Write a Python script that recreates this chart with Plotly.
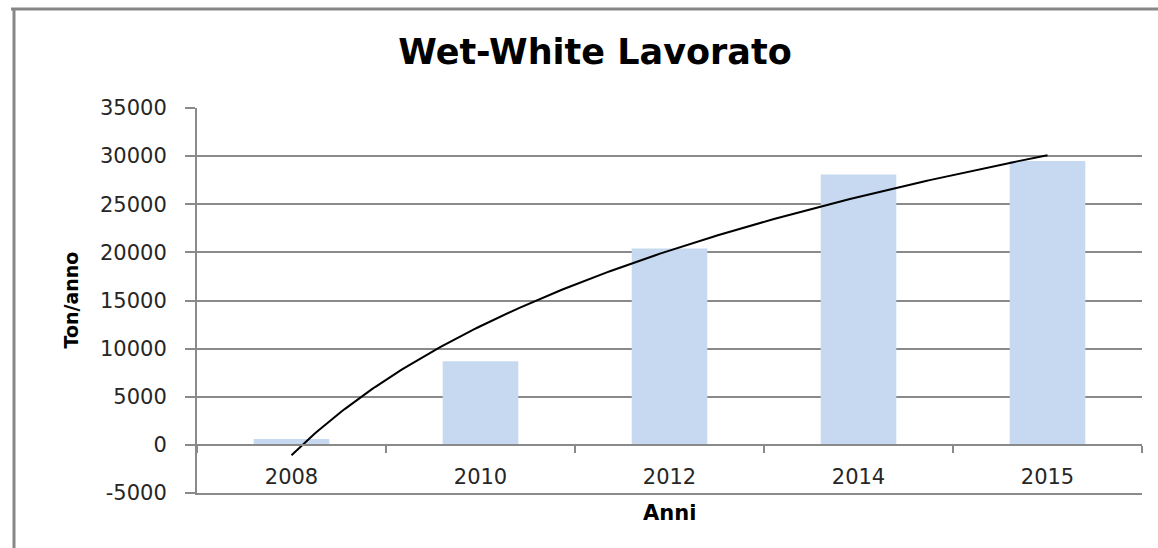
import numpy as np
import plotly.graph_objects as go

# Data
years = ["2008", "2010", "2012", "2014", "2015"]
tons = [600, 8700, 20400, 28100, 29500]
y_ticks = [-5000, 0, 5000, 10000, 15000, 20000, 25000, 30000, 35000]
y_labels = ["-5000", "0", "5000", "10000", "15000", "20000", "25000", "30000", "35000"]

W, H = 1158, 548
L, R, T, B = 197, 16, 108, 55
GRID = "#8a8a8a"
TXT = "#262626"
FONT = "DejaVu Sans"

pos = np.arange(1, len(years) + 1)

# Logarithmic trend line (least squares on ln(x)), as in a spreadsheet trendline
a, b = np.polyfit(np.log(pos), np.array(tons, dtype=float), 1)
xt = np.linspace(1, len(years), 200)
yt = a * np.log(xt) + b

ymin, ymax = y_ticks[0], y_ticks[-1]
zero_frac = (0 - ymin) / (ymax - ymin)

fig = go.Figure()
fig.add_trace(go.Bar(x=pos, y=tons, width=0.4, marker=dict(color="#c6d9f0", line=dict(width=0)),
                     showlegend=False, hoverinfo="skip"))
fig.add_trace(go.Scatter(x=xt, y=yt, mode="lines", line=dict(color="#000000", width=2),
                         showlegend=False, hoverinfo="skip"))

xr = [0.5, len(years) + 0.5]
fig.update_layout(
    width=W, height=H,
    margin=dict(l=L, r=R, t=T, b=B),
    paper_bgcolor="white", plot_bgcolor="white",
    title=dict(text="Wet-White Lavorato", x=595 / W, xref="container", xanchor="center",
               y=1 - 52 / H, yref="container", yanchor="middle",
               font=dict(family=FONT, size=35, color="#000000", weight="bold")),
    # category axis crossing at zero, ticks between categories
    xaxis=dict(range=xr, tickvals=[p + 0.5 for p in range(len(years) + 1)],
               showticklabels=False, ticks="outside", ticklen=7, tickwidth=2, tickcolor=GRID,
               showgrid=False, zeroline=False, showline=True, linecolor=GRID, linewidth=2,
               anchor="free", position=zero_frac),
    # category labels
    xaxis2=dict(overlaying="x", range=xr, tickvals=list(pos), ticktext=years, ticks="",
                showgrid=False, zeroline=False, showline=False, anchor="free", position=zero_frac,
                side="bottom", ticklabelstandoff=17,
                tickfont=dict(family=FONT, size=21, color=TXT)),
    # bottom edge line of the plot area (-5000 gridline)
    xaxis3=dict(overlaying="x", range=xr, showticklabels=False, ticks="", showgrid=False,
                zeroline=False, showline=True, linecolor=GRID, linewidth=2, anchor="y", side="bottom"),
    yaxis=dict(range=[ymin, ymax], tickvals=y_ticks, ticktext=y_labels,
               showgrid=True, gridcolor=GRID, gridwidth=2, zeroline=False,
               showline=True, linecolor=GRID, linewidth=2,
               ticks="outside", ticklen=10, tickwidth=2, tickcolor=GRID, ticklabelstandoff=14,
               tickfont=dict(family=FONT, size=21, color=TXT)),
)

# Empty traces so the overlay axes are rendered
fig.add_trace(go.Scatter(x=[1], y=[None], xaxis="x2", showlegend=False, hoverinfo="skip"))
fig.add_trace(go.Scatter(x=[1], y=[None], xaxis="x3", showlegend=False, hoverinfo="skip"))

# Axis titles
fig.add_annotation(text="Anni", xref="paper", yref="paper", x=0.5, y=(493 - 513) / (H - T - B),
                   showarrow=False, xanchor="center", yanchor="middle",
                   font=dict(family=FONT, size=21, color="#000000", weight="bold"))
fig.add_annotation(text="Ton/anno", xref="paper", yref="paper", x=(70 - L) / (W - L - R), y=0.5,
                   textangle=-90, showarrow=False, xanchor="center", yanchor="middle",
                   font=dict(family=FONT, size=19, color="#000000", weight="bold"))

# Chart area border (top and left edges)
pw, ph = W - L - R, H - T - B
bx0 = (14 - L) / pw
by_top = (H - B - 9) / ph
fig.add_shape(type="line", xref="paper", yref="paper", x0=(11 - L) / pw, x1=(W - L) / pw,
              y0=by_top, y1=by_top, line=dict(color="#878787", width=3))
fig.add_shape(type="line", xref="paper", yref="paper", x0=bx0, x1=bx0,
              y0=by_top, y1=(H - B - H) / ph, line=dict(color="#878787", width=3))

fig.write_html("out.html")
